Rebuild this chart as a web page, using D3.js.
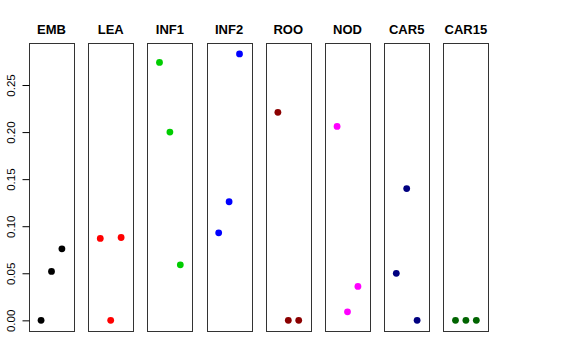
<html>
<head>
<meta charset="utf-8">
<script src="https://d3js.org/d3.v7.min.js"></script>
<style>
body { margin: 0; background: #fff; }
text { font-family: "Liberation Sans", Arial, sans-serif; fill: #000; }
.title { font-size: 13px; font-weight: bold; }
.y-axis text { font-size: 11.5px; }
.y-axis line { stroke: #000; }
.box { fill: none; stroke: #333; stroke-width: 1; }
</style>
</head>
<body>
<svg id="chart" width="576" height="360"></svg>
<script>

// panel names and colours
var panels = ["EMB", "LEA", "INF1", "INF2", "ROO", "NOD", "CAR5", "CAR15"];
var colors = ["#000000", "#FF0000", "#00CD00", "#0000FF", "#8B0000", "#FF00FF", "#000080", "#006400"];

// three points per panel (positions 1, 2, 3)
var val1 = [0.000, 0.087, 0.274, 0.093, 0.221, 0.206, 0.050, 0.000];
var val2 = [0.052, 0.000, 0.200, 0.126, 0.000, 0.009, 0.140, 0.000];
var val3 = [0.076, 0.088, 0.059, 0.283, 0.000, 0.036, 0.000, 0.000];

var yTicks = [0, 0.05, 0.10, 0.15, 0.20, 0.25];

var svg = d3.select("#chart");

var plotTop = 43.3, plotBottom = 331;

var panel = d3.scaleBand()
    .domain(panels)
    .range([29, 488.4])
    .paddingInner(0.24);

// 4% padding like R
var ymax = d3.max([val1, val2, val3], function(a){ return d3.max(a) });
var ext = ymax * 0.04;
var y = d3.scaleLinear()
    .domain([0 - ext, ymax + ext])
    .range([plotBottom, plotTop]);

var x = d3.scaleLinear()
    .domain([-0.16, 4.16])
    .range([0, panel.bandwidth()]);

var data = [];
panels.forEach(function(p, i){
    data.push({panel: p, pos: 1, v: val1[i], c: colors[i]});
    data.push({panel: p, pos: 2, v: val2[i], c: colors[i]});
    data.push({panel: p, pos: 3, v: val3[i], c: colors[i]});
});

// boxes
svg.selectAll(".box")
    .data(panels)
    .enter().append("rect")
    .attr("class", "box")
    .attr("x", function(d){ return Math.round(panel(d)) + 0.5 })
    .attr("y", Math.round(plotTop) + 0.5)
    .attr("width", Math.round(panel.bandwidth()))
    .attr("height", Math.round(plotBottom - plotTop));

// titles
svg.selectAll(".title")
    .data(panels)
    .enter().append("text")
    .attr("class", "title")
    .attr("text-anchor", "middle")
    .attr("x", function(d){ return panel(d) + panel.bandwidth()/2 })
    .attr("y", 34)
    .text(function(d){ return d });

// points
svg.selectAll(".dot")
    .data(data)
    .enter().append("circle")
    .attr("class", "dot")
    .attr("cx", function(d){ return panel(d.panel) + x(d.pos) })
    .attr("cy", function(d){ return y(d.v) })
    .attr("r", 3.4)
    .style("fill", function(d){ return d.c });

// y axis on first panel
var yAxis = svg.append("g")
    .attr("class", "y-axis")
    .attr("transform", "translate(" + (Math.round(panel(panels[0])) + 0.5) + ",0)")
    .call(d3.axisLeft(y).tickValues(yTicks).tickSize(7).tickFormat(d3.format(".2f")));

yAxis.select(".domain").remove();
yAxis.selectAll("text")
    .attr("transform", "rotate(-90)")
    .attr("text-anchor", "middle")
    .attr("x", 0)
    .attr("y", -15)
    .attr("dy", 0)
    .style("font-family", "'Liberation Sans', Arial, sans-serif");

</script>
</body>
</html>
